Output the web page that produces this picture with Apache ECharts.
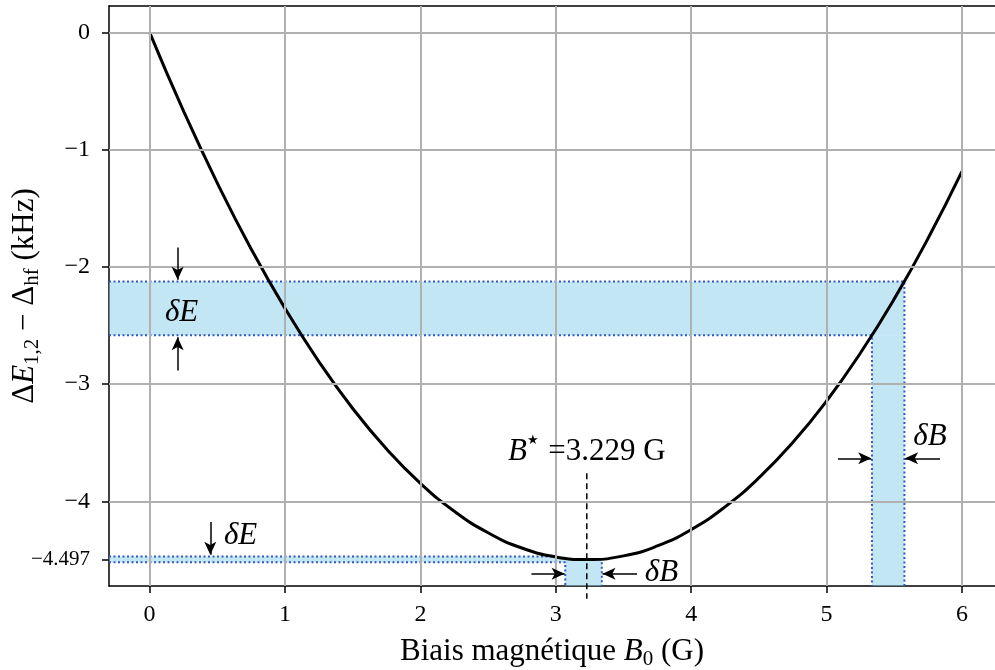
<!DOCTYPE html>
<html>
<head>
<meta charset="utf-8">
<script src="https://cdn.jsdelivr.net/npm/echarts@6/dist/echarts.min.js"></script>
<style>
  html, body { margin: 0; padding: 0; background: #fff; }
  #chart { width: 995px; height: 670px; }
</style>
</head>
<body>
<div id="chart"></div>
<script>
// curve
const curveX = [0, 0.25, 0.5, 0.75, 1, 1.25, 1.5, 1.75, 2, 2.25, 2.5, 2.75, 3, 3.229, 3.5, 3.75, 4, 4.25, 4.5, 4.75, 5, 5.25, 5.5, 5.75, 6]
const curveY = [0, -0.67, -1.285, -1.847, -2.354, -2.808, -3.208, -3.554, -3.846, -4.084, -4.268, -4.398, -4.474, -4.497, -4.465, -4.38, -4.241, -4.047, -3.8, -3.499, -3.144, -2.735, -2.273, -1.756, -1.185]

const xTicks = [0, 1, 2, 3, 4, 5, 6]
const yTicks = [0, -1, -2, -3, -4, -4.497]
const yGrid = [0, -1, -2, -3, -4]

// the right edge of the figure is cut off in the picture
const xMin = -0.3, xMax = 6.244
const yMin = -4.722, yMax = 0.225

// bands: [B low, B high] and [E top, E bottom]
const bandE = [-2.124, -2.584]
const bandB = [5.335, 5.575]
const smallE = [-4.47, -4.52]
const smallB = [3.07, 3.34]
const smallTopEnd = 2.98
const bStar = 3.229
const bStarLine = [-3.76, -4.83]

// arrows [x1, y1, x2, y2]
const arrows = [
  [0.207, -1.834, 0.207, -2.11],
  [0.207, -2.883, 0.207, -2.6],
  [5.084, -3.633, 5.33, -3.633],
  [5.838, -3.633, 5.58, -3.633],
  [0.448, -4.176, 0.448, -4.455],
  [0.448, -4.8, 0.448, -4.53],
  [2.82, -4.618, 3.065, -4.618],
  [3.6, -4.618, 3.345, -4.618]
]

// text notes [x, y, key]
const notes = [
  [0.236, -2.388, 'dE'],
  [0.672, -4.29, 'dE'],
  [5.764, -3.454, 'dB'],
  [3.78, -4.614, 'dB'],
  [3.229, -3.582, 'bstar']
]

const serif = "'Liberation Serif', 'DejaVu Serif', serif"
const fill = 'rgba(135, 206, 235, 0.5)'
const dotBlue = '#3158c4'

const noteText = {
  dE: '{i|δE}',
  dB: '{i|δB}',
  bstar: '{i|B}{sup|★}{t| =3.229 G}'
}

const nameRich = {
  t: { fontFamily: serif, fontSize: 31, color: '#000', lineHeight: 36 },
  i: { fontFamily: serif, fontSize: 31, fontStyle: 'italic', color: '#000', lineHeight: 36 },
  s: { fontFamily: serif, fontSize: 21, color: '#000', verticalAlign: 'bottom', lineHeight: 25 }
}

const dotted = (name, pts) => ({
  name,
  type: 'line',
  z: 3,
  showSymbol: false,
  silent: true,
  clip: false,
  data: pts,
  lineStyle: { color: dotBlue, width: 2, type: [2, 2.5] }
})

const spine = { show: true, onZero: false, lineStyle: { color: '#000', width: 1.5 } }

const chart = echarts.init(document.getElementById('chart'))

chart.setOption({
  animation: false,
  grid: {
    left: 109,
    right: 0,
    top: 6,
    bottom: 84,
    outerBoundsMode: 'none',
    containLabel: false
  },
  xAxis: [
    {
      type: 'value',
      min: xMin,
      max: xMax,
      name: '{t|Biais magnétique }{i|B}{s|0}{t| (G)}',
      nameLocation: 'middle',
      nameGap: 48,
      nameMoveOverlap: false,
      nameTextStyle: { color: '#000', rich: nameRich },
      axisLine: spine,
      axisTick: { show: true, customValues: xTicks, length: 7, lineStyle: { color: '#000', width: 1.5 } },
      axisLabel: {
        customValues: xTicks,
        margin: 17,
        fontFamily: serif,
        fontSize: 24,
        color: '#000'
      },
      splitLine: { show: false }
    },
    {
      // top spine
      type: 'value',
      position: 'top',
      min: xMin,
      max: xMax,
      axisLine: spine,
      axisTick: { show: false },
      axisLabel: { show: false },
      splitLine: { show: false }
    }
  ],
  yAxis: {
    type: 'value',
    min: yMin,
    max: yMax,
    name: '{t|Δ}{i|E}{s|1,2}{t| − Δ}{s|hf}{t| (kHz)}',
    nameLocation: 'middle',
    nameRotate: 90,
    nameGap: 66,
    nameMoveOverlap: false,
    nameTextStyle: { color: '#000', rich: nameRich },
    axisLine: spine,
    axisTick: { show: true, customValues: yTicks, length: 7, lineStyle: { color: '#000', width: 1.5 } },
    axisLabel: {
      customValues: yTicks,
      margin: 19,
      fontFamily: serif,
      fontSize: 24,
      color: '#000',
      formatter: (v) => {
        const s = String(v).replace('-', '−')
        return Math.abs(v - -4.497) < 1e-6 ? '{sm|' + s + '}' : s
      },
      rich: {
        sm: { fontFamily: serif, fontSize: 21, color: '#000' }
      }
    },
    splitLine: { show: false }
  },
  series: [
    {
      name: 'grille',
      type: 'line',
      z: 1,
      data: [],
      silent: true,
      markLine: {
        silent: true,
        symbol: 'none',
        animation: false,
        label: { show: false },
        lineStyle: { color: '#b0b0b0', width: 2, type: 'solid' },
        data: xTicks.map(v => ({ xAxis: v })).concat(yGrid.map(v => ({ yAxis: v })))
      }
    },
    {
      name: 'bandes',
      type: 'line',
      z: 2,
      data: [],
      silent: true,
      markArea: {
        silent: true,
        itemStyle: { color: fill },
        data: [
          [{ coord: [xMin, bandE[0]] }, { coord: [bandB[1], bandE[1]] }],
          [{ coord: [bandB[0], bandE[1]] }, { coord: [bandB[1], yMin] }],
          [{ coord: [xMin, smallE[0]] }, { coord: [smallB[0], smallE[1]] }],
          [{ coord: [smallB[0], -4.5] }, { coord: [smallB[1], yMin] }]
        ]
      }
    },
    dotted('haut', [[xMin, bandE[0]], [bandB[1], bandE[0]], [bandB[1], yMin]]),
    dotted('bas', [[xMin, bandE[1]], [bandB[0], bandE[1]], [bandB[0], yMin]]),
    dotted('haut min', [[xMin, smallE[0]], [smallTopEnd, smallE[0]]]),
    dotted('bas min', [[xMin, smallE[1]], [smallB[0], smallE[1]], [smallB[0], yMin]]),
    dotted('droite min', [[smallB[1], smallE[1]], [smallB[1], yMin]]),
    {
      name: 'courbe',
      type: 'line',
      z: 4,
      smooth: true,
      showSymbol: false,
      data: curveX.map((x, i) => [x, curveY[i]]),
      lineStyle: { color: '#000', width: 3 }
    },
    {
      name: 'B*',
      type: 'line',
      z: 5,
      clip: false,
      showSymbol: false,
      data: [[bStar, bStarLine[0]], [bStar, bStarLine[1]]],
      lineStyle: { color: '#000', width: 1.5, type: [6, 4] }
    },
    {
      name: 'fleches',
      type: 'line',
      z: 5,
      clip: false,
      data: [],
      markLine: {
        silent: true,
        animation: false,
        symbol: ['none', 'arrow'],
        symbolSize: [9, 13],
        label: { show: false },
        lineStyle: { color: '#000', width: 1.5, type: 'solid' },
        itemStyle: { color: '#000' },
        data: arrows.map(a => [{ coord: [a[0], a[1]] }, { coord: [a[2], a[3]] }])
      }
    },
    {
      name: 'notes',
      type: 'scatter',
      z: 6,
      symbolSize: 0,
      clip: false,
      silent: true,
      itemStyle: { opacity: 1 },
      data: notes.map(n => ({ value: [n[0], n[1]], name: n[2] })),
      label: {
        show: true,
        position: 'inside',
        color: '#000',
        opacity: 1,
        formatter: (p) => noteText[p.name],
        rich: {
          i: { fontFamily: serif, fontSize: 31, fontStyle: 'italic', color: '#000', lineHeight: 36 },
          sup: { fontFamily: "'DejaVu Sans', sans-serif", fontSize: 13, color: '#000', verticalAlign: 'top', lineHeight: 15, padding: [0, 2, 0, 0] },
          t: { fontFamily: serif, fontSize: 31, color: '#000', lineHeight: 36 }
        }
      }
    }
  ]
})

window.addEventListener('resize', () => chart.resize())
</script>
</body>
</html>
